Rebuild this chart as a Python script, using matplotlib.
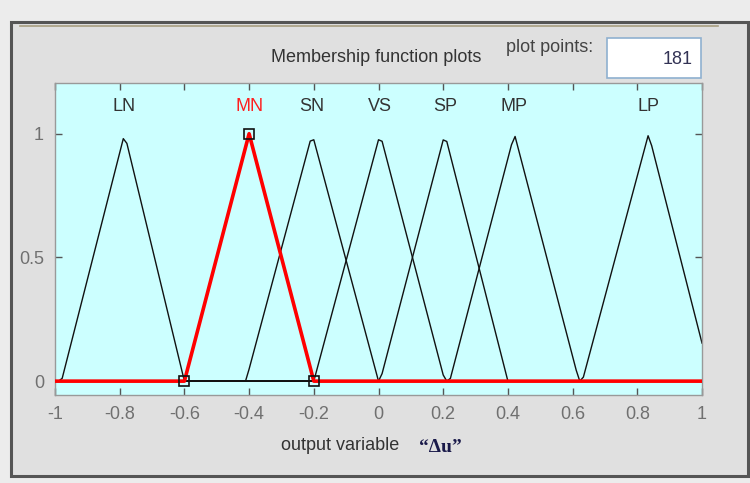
import numpy as np
import matplotlib
matplotlib.use("Agg")
import matplotlib.pyplot as plt
from matplotlib.patches import Rectangle
from matplotlib.lines import Line2D

# ---- data ----
mf_names = ["LN", "MN", "SN", "VS", "SP", "MP", "LP"]
mf_params = [
    [-0.98, -0.785, -0.60],
    [-0.60, -0.40, -0.20],
    [-0.41, -0.205, 0.00],
    [-0.20, 0.005, 0.205],
    [0.005, 0.205, 0.40],
    [0.22, 0.42, 0.62],
    [0.63, 0.835, 1.03],
]
selected = "MN"
n_points = 181
x_range = [-1, 1]
x_ticks = [-1, -0.8, -0.6, -0.4, -0.2, 0, 0.2, 0.4, 0.6, 0.8, 1]
x_tick_labels = ["-1", "-0.8", "-0.6", "-0.4", "-0.2", "0", "0.2", "0.4", "0.6", "0.8", "1"]
y_ticks = [0, 0.5, 1]
y_tick_labels = ["0", "0.5", "1"]

plt.rcParams['font.family'] = ['Liberation Sans Narrow', 'Liberation Sans', 'DejaVu Sans']

W, H = 750, 483
fig = plt.figure(figsize=(W / 100, H / 100), dpi=100)
fig.patch.set_facecolor("#ececec")

def fx(px):
    return px / W

def fy(py):
    return 1 - py / H

# panel background and frame
fig.patches.append(Rectangle((fx(11), fy(476)), fx(748) - fx(11), fy(22) - fy(476),
                             transform=fig.transFigure, facecolor="#e0e0e0",
                             edgecolor="#555555", linewidth=2.2, zorder=-2))
fig.lines.append(Line2D([fx(20), fx(718)], [fy(26), fy(26)], transform=fig.transFigure,
                        color="#a89f80", linewidth=1.2, zorder=-1))

# title and plot points box
fig.text(fx(376), fy(58), "Membership function plots", ha="center", va="center",
         fontsize=13, color="#333333")
fig.text(fx(550), fy(48), "plot points:", ha="center", va="center",
         fontsize=13, color="#444444")
fig.patches.append(Rectangle((fx(607), fy(78)), fx(701) - fx(607), fy(38) - fy(78),
                             transform=fig.transFigure, facecolor="white",
                             edgecolor="#8fb0d0", linewidth=1.2, zorder=-1))
fig.text(fx(693), fy(59), str(n_points), ha="right", va="center",
         fontsize=13, color="#333355")

# axes
ax = fig.add_axes([fx(55), fy(395), fx(702) - fx(55), fy(83) - fy(395)])
ax.set_zorder(2)
ax.set_facecolor("#ccffff")
ax.set_xlim(x_range)
ax.set_ylim(-0.056, 1.205)

x = np.linspace(x_range[0], x_range[1], n_points)

def trimf(xv, a, b, c):
    left = (xv - a) / (b - a)
    right = (c - xv) / (c - b)
    return np.clip(np.minimum(left, right), 0, 1)

for name, p in zip(mf_names, mf_params):
    if name == selected:
        continue
    ax.plot(x, trimf(x, *p), color="#111111", linewidth=1.0, zorder=2)

for name, p in zip(mf_names, mf_params):
    if name != selected:
        continue
    ax.plot(x, trimf(x, *p), color="#ff0000", linewidth=2.6, zorder=3)
    ax.plot(p, [0, 1, 0], linestyle="none", marker="s", markersize=7,
            markerfacecolor="none", markeredgecolor="#111111", markeredgewidth=1.2, zorder=4)

for name, p in zip(mf_names, mf_params):
    ax.text(p[1], 1.11, name, ha="center", va="center", fontsize=13,
            color="#ff2020" if name == selected else "#333333", zorder=5)

ax.set_xticks(x_ticks)
ax.set_xticklabels(x_tick_labels)
ax.set_yticks(y_ticks)
ax.set_yticklabels(y_tick_labels)
ax.tick_params(direction="in", top=True, right=True, length=5, width=1,
               color="#555555", labelsize=13, labelcolor="#707070", pad=8)
for s in ax.spines.values():
    s.set_color("#999999")
    s.set_linewidth(1.0)

fig.text(fx(340), fy(445), "output variable", ha="center", va="center",
         fontsize=13, color="#333333")
fig.text(fx(440), fy(447), "\u201c\u0394u\u201d", ha="center", va="center",
         fontsize=14, fontweight="bold", color="#1a1a4a", family=["Liberation Serif", "DejaVu Serif"])

fig.savefig("out.png", dpi=100, facecolor=fig.get_facecolor())
